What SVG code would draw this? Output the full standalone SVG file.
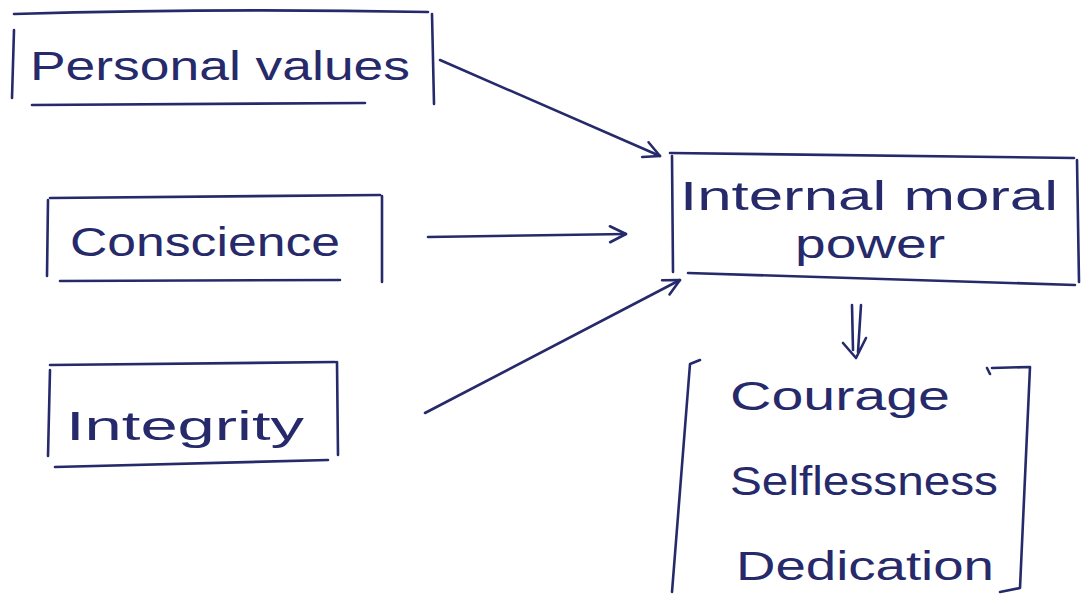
<svg xmlns="http://www.w3.org/2000/svg" width="1085" height="596" viewBox="0 0 1085 596">
<defs>
<style>
.ink{fill:none;stroke:#262a6b;stroke-width:2.6;stroke-linecap:round;stroke-linejoin:round}
.t{font-family:"Liberation Sans",Arial,sans-serif;fill:#262a6b;font-size:40px}
</style>
<marker id="ah" viewBox="0 0 20 20" refX="18" refY="10" markerWidth="20" markerHeight="20" markerUnits="userSpaceOnUse" orient="auto">
<path d="M2,2 L18,10 L2,18" fill="none" stroke="#262a6b" stroke-width="2.6" stroke-linecap="round" stroke-linejoin="round"/>
</marker>
</defs>
<rect width="1085" height="596" fill="#ffffff"/>
<g id="personal-values">
<path class="ink" d="M14,30 L12,98 M14,14 Q220,8 428,12 M432,14 L434,104 M32,105 L365,103"/>
<text class="t" x="30" y="80" textLength="380" lengthAdjust="spacingAndGlyphs">Personal values</text>
</g>
<g id="conscience">
<path class="ink" d="M48,200 L47,276 M50,198 L380,195 M382,196 L382,282 M60,281 L340,280"/>
<text class="t" x="70" y="256" textLength="270" lengthAdjust="spacingAndGlyphs">Conscience</text>
</g>
<g id="integrity">
<path class="ink" d="M50,370 L48,456 M50,365 L335,362 M337,362 L338,455 M55,467 L328,460"/>
<text class="t" x="66" y="440" textLength="238" lengthAdjust="spacingAndGlyphs">Integrity</text>
</g>
<g id="internal-moral-power">
<path class="ink" d="M672,156 L673,272 M670,153 L1074,158 M1077,160 L1079,282 M688,273 L1075,285"/>
<text class="t" x="680" y="210" textLength="378" lengthAdjust="spacingAndGlyphs">Internal moral</text>
<text class="t" x="795" y="258" textLength="150" lengthAdjust="spacingAndGlyphs">power</text>
</g>
<g id="qualities">
<path class="ink" d="M700,360 L690,364 L672,592 M987,368 L990,374 M992,368 L1030,367 L1020,588 L1000,592"/>
<text class="t" x="730" y="410" textLength="220" lengthAdjust="spacingAndGlyphs">Courage</text>
<text class="t" x="730" y="495" textLength="268" lengthAdjust="spacingAndGlyphs">Selflessness</text>
<text class="t" x="736" y="580" textLength="258" lengthAdjust="spacingAndGlyphs">Dedication</text>
</g>
<g id="connectors">
<path class="ink" d="M440,60 L660,156" marker-end="url(#ah)"/>
<path class="ink" d="M428,237 L626,234" marker-end="url(#ah)"/>
<path class="ink" d="M425,413 L680,280" marker-end="url(#ah)"/>
<path class="ink" d="M852,305 L853,350 M861,305 L858,352 M843,343 L856,358 L866,338"/>
</g>
</svg>
